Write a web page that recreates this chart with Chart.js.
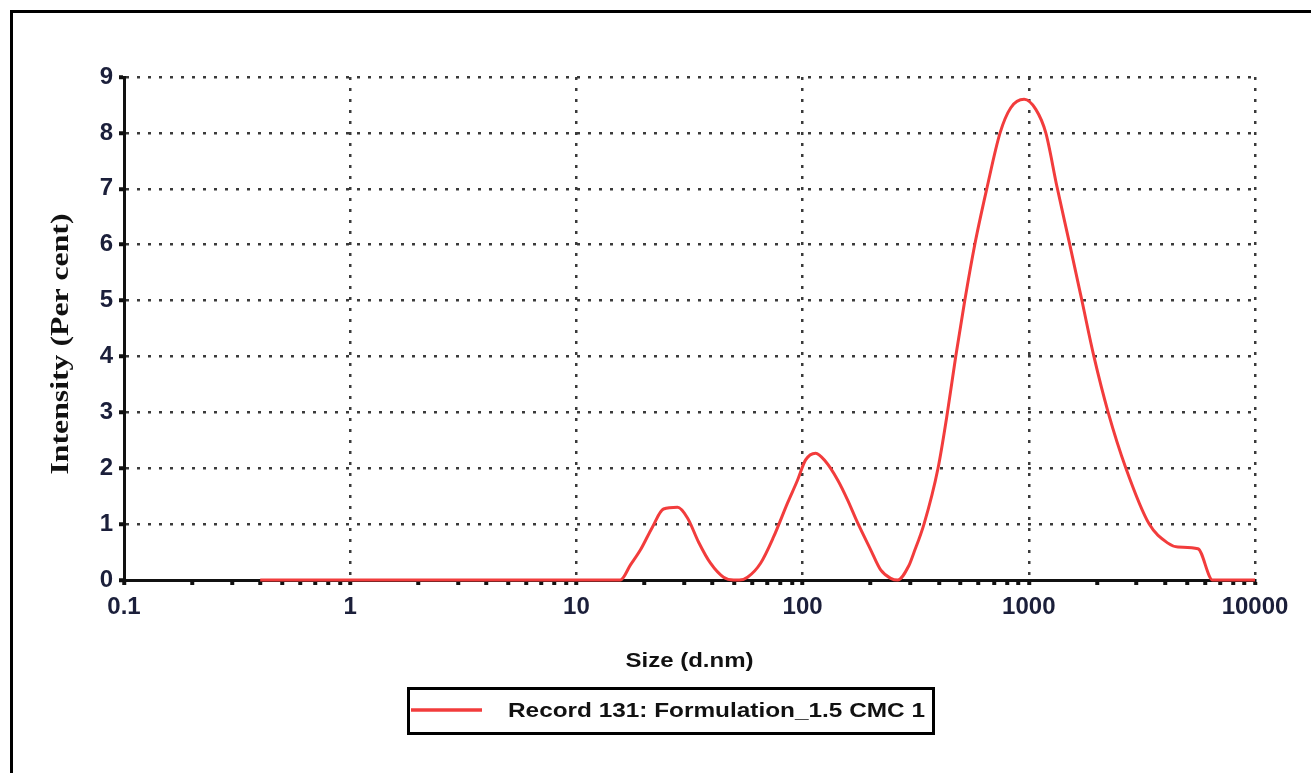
<!DOCTYPE html>
<html>
<head>
<meta charset="utf-8">
<script src="https://cdn.jsdelivr.net/npm/chart.js@4.4.1/dist/chart.umd.min.js"></script>
<style>
  html, body { margin: 0; padding: 0; background: #ffffff; }
  #wrap { width: 1311px; height: 773px; position: relative; }
</style>
</head>
<body>
<div id="wrap"><canvas id="c" width="1311" height="773"></canvas></div>
<script>
// ---- data ----
const seriesLabel = 'Record 131: Formulation_1.5 CMC 1';
const sizes = [0.4, 1, 10, 15.65, 17.34, 19.2, 21.7, 24.27, 27.99, 30.99, 34.66, 39.16, 44.72, 49.51, 52.5,
  57.09, 65.19, 74.42, 85.82, 95.04, 103.1, 114.2, 126.4, 142.9, 158.2, 175.2, 200, 221.4, 245.2, 263.3,
  294.4, 309.8, 344.1, 396.9, 436.9, 475.3, 521.1, 576.9, 652, 746.4, 832.5, 953.3,
  1074, 1189, 1330, 1518, 1717, 1940, 2243, 2687, 3407, 4121, 4563, 5595, 6500, 10000];
const intensity = [0, 0, 0, 0, 0.27, 0.54, 0.95, 1.27, 1.3, 1.11, 0.68, 0.30, 0.05, 0, 0,
  0.05, 0.30, 0.77, 1.38, 1.79, 2.15, 2.27, 2.12, 1.79, 1.43, 1.02, 0.54, 0.18, 0.03, 0,
  0.25, 0.48, 1.0, 2.0, 3.0, 4.0, 5.0, 6.0, 7.0, 8.0, 8.45, 8.6,
  8.42, 8.0, 7.05, 6.0, 5.0, 4.0, 3.0, 2.0, 1.0, 0.66, 0.59, 0.56, 0, 0];
const xMajorTicks = [0.1, 1, 10, 100, 1000, 10000];
const xMinorMultipliers = [2, 3, 4, 5, 6, 7, 8, 9];
const xTickLabels = ['0.1', '1', '10', '100', '1000', '10000'];
const yMin = 0, yMax = 9, yStep = 0.5;
const xTitle = 'Size (d.nm)';
const yTitle = 'Intensity (Per cent)';

// ---- chart ----
const points = sizes.map((s, i) => ({ x: s, y: intensity[i] }));
const tickFont = { family: 'Liberation Sans', weight: 'bold', size: 24 };
const tickColor = '#1b1f3a';
const dotGrid = '#3a3a3a';
const red = '#f23c3c';

function stretchedText(ctx, text, x, y, sx, align) {
  ctx.save();
  ctx.translate(x, y);
  ctx.scale(sx, 1);
  ctx.textAlign = align;
  ctx.fillText(text, 0, 0);
  ctx.restore();
}

const decorPlugin = {
  id: 'decor',
  afterDraw(chart) {
    const ctx = chart.ctx;
    ctx.save();
    // outer frame (left + top)
    ctx.strokeStyle = '#000';
    ctx.lineWidth = 3;
    ctx.beginPath();
    ctx.moveTo(11.5, 773);
    ctx.lineTo(11.5, 11.5);
    ctx.lineTo(1311, 11.5);
    ctx.stroke();

    // x title
    ctx.fillStyle = '#111';
    ctx.textBaseline = 'middle';
    ctx.font = 'bold 20px "Liberation Sans"';
    const ca = chart.chartArea;
    stretchedText(ctx, xTitle, (ca.left + ca.right) / 2, 661, 1.2, 'center');

    // y title
    ctx.save();
    ctx.translate(62, 344);
    ctx.rotate(-Math.PI / 2);
    ctx.font = 'bold 25px "Liberation Serif"';
    stretchedText(ctx, yTitle, 0, 0, 1.27, 'center');
    ctx.restore();

    // legend box
    ctx.lineWidth = 3;
    ctx.strokeStyle = '#000';
    ctx.strokeRect(408.5, 688.5, 525, 45);
    ctx.strokeStyle = red;
    ctx.lineWidth = 3.5;
    ctx.beginPath();
    ctx.moveTo(411, 710);
    ctx.lineTo(482, 710);
    ctx.stroke();
    ctx.fillStyle = '#111';
    ctx.font = 'bold 21px "Liberation Sans"';
    stretchedText(ctx, chart.data.datasets[0].label, 508, 711, 1.16, 'left');
    ctx.restore();
  }
};

new Chart(document.getElementById('c'), {
  type: 'line',
  data: {
    datasets: [{
      label: seriesLabel,
      data: points,
      borderColor: red,
      borderWidth: 3,
      pointRadius: 0,
      fill: false,
      clip: false,
      cubicInterpolationMode: 'monotone'
    }]
  },
  options: {
    responsive: false,
    animation: false,
    layout: { padding: { left: 0, top: 77, right: 56, bottom: 153 } },
    plugins: { legend: { display: false }, tooltip: { enabled: false } },
    scales: {
      x: {
        type: 'logarithmic',
        min: 0.1,
        max: 10000,
        afterFit: s => { s.height = 40; },
        afterBuildTicks: s => {
          const t = [];
          xMajorTicks.forEach((m, i) => {
            t.push({ value: m });
            if (i < xMajorTicks.length - 1) xMinorMultipliers.forEach(k => t.push({ value: m * k }));
          });
          s.ticks = t;
        },
        ticks: {
          autoSkip: false,
          maxRotation: 0,
          minRotation: 0,
          padding: 8,
          color: tickColor,
          font: tickFont,
          callback: (v) => {
            const i = xMajorTicks.findIndex(m => Math.abs(m - v) < m * 1e-6);
            return i >= 0 ? xTickLabels[i] : '';
          }
        },
        grid: {
          color: c => {
            const v = c.tick ? c.tick.value : 0;
            const major = xMajorTicks.some(m => Math.abs(m - v) < m * 1e-6);
            return (major && v > 0.1) ? dotGrid : 'rgba(0,0,0,0)';
          },
          lineWidth: 2.5,
          tickColor: '#111',
          tickLength: 5,
          tickWidth: 4
        },
        border: { display: true, color: '#111', width: 3, dash: [3, 8] }
      },
      y: {
        type: 'linear',
        min: yMin,
        max: yMax,
        afterFit: s => { s.width = 124; },
        ticks: {
          stepSize: yStep,
          padding: 6,
          color: tickColor,
          font: tickFont,
          callback: v => (Number.isInteger(v) ? String(v) : '')
        },
        grid: {
          color: c => {
            const v = c.tick ? c.tick.value : 0;
            return (Number.isInteger(v) && v > 0) ? dotGrid : 'rgba(0,0,0,0)';
          },
          lineWidth: 2.5,
          tickColor: '#111',
          tickLength: 5,
          tickWidth: 4
        },
        border: { display: true, color: '#111', width: 3, dash: [3, 8] }
      }
    }
  },
  plugins: [decorPlugin]
});
</script>
</body>
</html>
